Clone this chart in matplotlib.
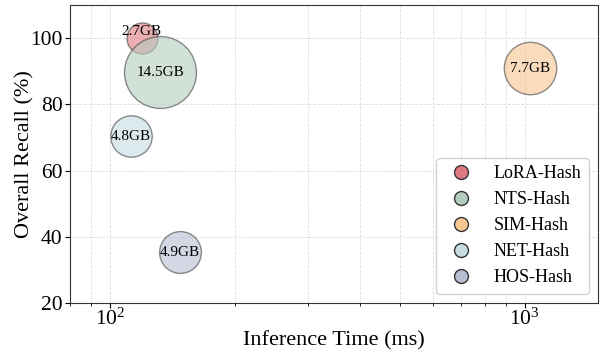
import matplotlib.pyplot as plt
from matplotlib.lines import Line2D

plt.rcParams['font.family'] = ['Liberation Serif', 'DejaVu Serif']
plt.rcParams['mathtext.fontset'] = 'stix'

# data
methods = ["LoRA-Hash", "NTS-Hash", "SIM-Hash", "NET-Hash", "HOS-Hash"]
time_ms = [119, 132, 1030, 112, 147]
recall = [100.0, 89.7, 91.0, 70.3, 35.3]
memory_gb = [2.7, 14.5, 7.7, 4.8, 4.9]
colors = ["#e07a80", "#b5cdbf", "#f8c690", "#c6dce1", "#b9bed2"]
label_dy = [2, 0, 0, 0, 0]  # the small LoRA label sits a bit higher

fig, ax = plt.subplots(figsize=(6.05, 3.52), dpi=100)

for m, t, r, g, c, dy in zip(methods, time_ms, recall, memory_gb, colors, label_dy):
    ax.scatter(t, r, s=g * 185, color=c, alpha=0.6, edgecolors="#444444",
               linewidths=1.0, zorder=3)
    ax.text(t, r + dy, f"{g}GB", ha="center", va="center", fontsize=11, zorder=4)

ax.set_xscale("log")
ax.set_xlim(80, 1500)
ax.set_ylim(20, 110)
ax.set_yticks([20, 40, 60, 80, 100])
ax.grid(True, which="both", linestyle="--", color="#dddddd", linewidth=0.6)
ax.set_axisbelow(True)
ax.tick_params(labelsize=15.5)
ax.tick_params(axis="x", pad=1)
ax.tick_params(axis="y", pad=2)
ax.set_xlabel("Inference Time (ms)", fontsize=16, labelpad=1)
ax.set_ylabel("Overall Recall (%)", fontsize=16, labelpad=-3)
for sp in ax.spines.values():
    sp.set_color("#333333")

handles = [Line2D([], [], marker="o", linestyle="", markersize=10,
                  markerfacecolor=c, markeredgecolor="#333333")
           for c in colors]
ax.legend(handles, methods, loc="lower right", fontsize=13, framealpha=0.9)

plt.subplots_adjust(left=0.116, right=0.988, top=0.985, bottom=0.14)
plt.savefig("out.png", dpi=100)
